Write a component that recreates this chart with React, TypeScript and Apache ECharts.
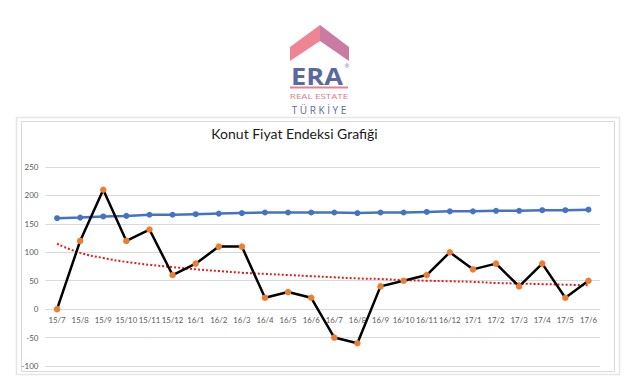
import React, { useEffect, useRef } from "react";
import * as echarts from "echarts";

const categories = [
  "15/7", "15/8", "15/9", "15/10", "15/11", "15/12",
  "16/1", "16/2", "16/3", "16/4", "16/5", "16/6",
  "16/7", "16/8", "16/9", "16/10", "16/11", "16/12",
  "17/1", "17/2", "17/3", "17/4", "17/5", "17/6",
];

const indexSeries = [
  160, 161, 163, 164, 166, 166, 167, 168, 169, 170, 170, 170,
  170, 169, 170, 170, 171, 172, 172, 173, 173, 174, 174, 175,
];

const changeSeries = [
  0, 120, 210, 120, 140, 60, 80, 110, 110, 20, 30, 20,
  -50, -60, 40, 50, 60, 100, 70, 80, 40, 80, 20, 50,
];

const trendSeries = [
  115, 99, 90, 83, 78, 74, 70, 67, 64, 62, 60, 58,
  56, 54, 53, 51, 50, 49, 48, 46, 45, 44, 43, 42,
];

const yTicks = { min: -100, max: 250, interval: 50 };

const titleText = "Konut Fiyat Endeksi Grafiği";

export default function App() {
  const ref = useRef<HTMLDivElement>(null);

  useEffect(() => {
    if (!ref.current) return;
    const chart = echarts.init(ref.current, undefined, { renderer: "svg" });
    const font = "Lato, 'Open Sans', sans-serif";
    chart.setOption({
      animation: false,
      backgroundColor: "#ffffff",
      grid: { left: 45.5, right: 40, top: 167, bottom: 25, containLabel: false },
      xAxis: {
        type: "category",
        data: categories,
        boundaryGap: true,
        position: "bottom",
        offset: -57,
        axisLine: { show: true, onZero: false, lineStyle: { color: "#d9d9d9", width: 1 } },
        axisTick: { show: false },
        axisLabel: { color: "#595959", fontSize: 7.8, fontFamily: font, margin: 7, interval: 0 },
      },
      yAxis: {
        type: "value",
        min: yTicks.min,
        max: yTicks.max,
        interval: yTicks.interval,
        axisLine: { show: false },
        axisTick: { show: false },
        axisLabel: { color: "#595959", fontSize: 8, fontFamily: font, margin: 7 },
        splitLine: { lineStyle: { color: "#d9d9d9", width: 1 } },
      },
      series: [
        {
          type: "line",
          data: indexSeries,
          symbol: "circle",
          symbolSize: 6,
          lineStyle: { color: "#4472C4", width: 2.5 },
          itemStyle: { color: "#4472C4" },
          z: 3,
        },
        {
          type: "line",
          data: trendSeries,
          symbol: "none",
          smooth: true,
          lineStyle: { color: "#E02020", width: 2, type: [2, 2] },
          z: 2,
        },
        {
          type: "line",
          data: changeSeries,
          symbol: "circle",
          symbolSize: 6.5,
          lineStyle: { color: "#000000", width: 2.5 },
          itemStyle: { color: "#ED7D31" },
          z: 4,
        },
      ],
      graphic: [
        // chart frame
        { type: "rect", shape: { x: 16.5, y: 117.5, width: 603, height: 257 }, style: { fill: "none", stroke: "#e6e6e6", lineWidth: 1.5 }, silent: true },
        { type: "rect", shape: { x: 21.5, y: 121.5, width: 593, height: 250 }, style: { fill: "none", stroke: "#d9d9d9", lineWidth: 1 }, silent: true },
        // title
        {
          type: "text",
          x: 294.5,
          y: 133,
          style: { text: titleText, fill: "#1a1a1a", fontSize: 14, fontFamily: font, align: "center", verticalAlign: "middle" },
        },
        // logo roof
        {
          type: "polygon",
          shape: { points: [[290, 47], [320, 25], [320, 41], [290, 61]] },
          style: { fill: "#EE8593" },
        },
        {
          type: "polygon",
          shape: { points: [[320, 25], [349, 47], [349, 61], [320, 41]] },
          style: { fill: "#C97BA1" },
        },
        {
          type: "text",
          x: 317,
          y: 76,
          scaleX: 1.18,
          style: { text: "ERA", fill: "#5A6A9E", fontSize: 23, fontWeight: "bold", fontFamily: "'Open Sans', sans-serif", align: "center", verticalAlign: "middle" },
        },
        {
          type: "text",
          x: 347,
          y: 66,
          style: { text: "®", fill: "#5A6A9E", fontSize: 6, fontFamily: "sans-serif", align: "center", verticalAlign: "middle" },
        },
        { type: "rect", shape: { x: 290, y: 86.5, width: 58, height: 2 }, style: { fill: "#E8808E" } },
        {
          type: "text",
          x: 319,
          y: 96.5,
          scaleX: 1.3,
          style: { text: "REAL ESTATE", fill: "#E07A88", fontSize: 7.5, fontFamily: "'Open Sans', sans-serif", align: "center", verticalAlign: "middle" },
        },
        {
          type: "text",
          x: 319,
          y: 109.5,
          style: { text: "T Ü R K İ Y E", fill: "#5A6A9E", fontSize: 10, fontFamily: "'Open Sans', sans-serif", align: "center", verticalAlign: "middle" },
        },
      ],
    });
    return () => chart.dispose();
  }, []);

  return (
    <div
      ref={ref}
      style={{ position: "fixed", left: 0, top: 0, width: 640, height: 391, background: "#fff" }}
    />
  );
}
